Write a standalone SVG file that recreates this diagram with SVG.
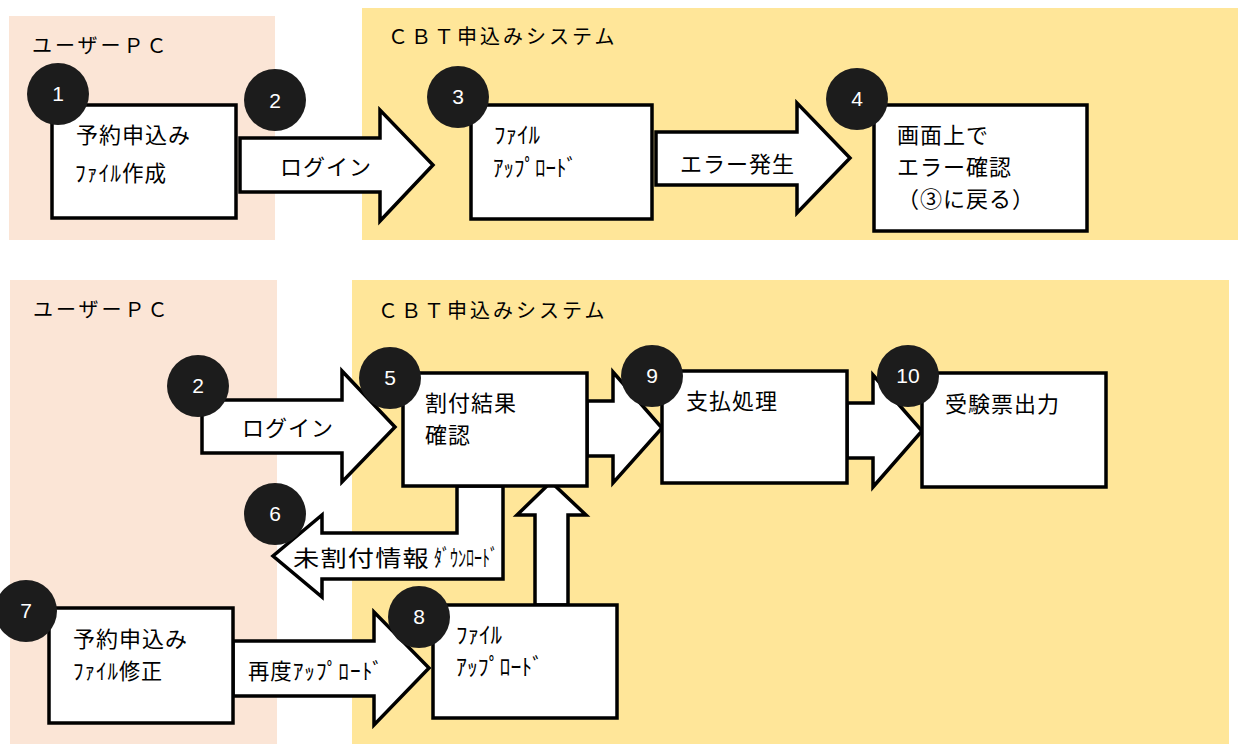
<svg xmlns="http://www.w3.org/2000/svg" width="1243" height="744" viewBox="0 0 1243 744">
<style>
.pink{fill:#FBE5D6}
.yel{fill:#FFE699}
.box{fill:#fff;stroke:#000;stroke-width:3.5}
.arr{fill:#fff;stroke:#000;stroke-width:3.5;stroke-linejoin:miter}
.dot{fill:#1C1C1C}
.num{fill:#fff;font-family:"Liberation Sans",Arial,sans-serif;font-size:21px;text-anchor:middle}
.t{fill:#000;font-family:"Noto Sans CJK JP","Noto Sans CJK SC",sans-serif;font-size:22px;letter-spacing:1px}
.h{fill:#000;font-family:"Noto Sans CJK JP","Noto Sans CJK SC",sans-serif;font-size:23px;letter-spacing:0}
.ttl{fill:#000;font-family:"Noto Sans CJK JP","Noto Sans CJK SC",sans-serif;font-size:20px;letter-spacing:3px}
</style>
<rect width="1243" height="744" fill="#fff"/>
<rect class="pink" x="9" y="16" width="266" height="224"/>
<rect class="yel" x="362" y="8" width="876" height="232"/>
<rect class="pink" x="10" y="280" width="267" height="464"/>
<rect class="yel" x="352" y="280" width="877" height="464"/>
<text class="ttl" x="32" y="53">ユーザーＰＣ</text>
<text class="ttl" x="388" y="44">ＣＢＴ申込みシステム</text>
<text class="ttl" x="33" y="317">ユーザーＰＣ</text>
<text class="ttl" x="378" y="318">ＣＢＴ申込みシステム</text>

<g id="connectors">
<g id="c1-3"><polygon class="arr" points="240,138 380,138 380,110 433,165 380,221 380,192 240,192"/><text class="t" x="280" y="175">ログイン</text></g>
<g id="c3-4"><polygon class="arr" points="656,132 797,132 797,103 850,158 797,213 797,185 656,185"/><text class="t" x="680" y="172">エラー発生</text></g>
<g id="c-login"><polygon class="arr" points="202,400 342,400 342,371 395,427 342,482 342,453 202,453"/><text class="t" x="242" y="436">ログイン</text></g>
<g id="c5-9"><polygon class="arr" points="587,401 613,401 613,372 662,428 613,483 613,456 587,456"/></g>
<g id="c9-10"><polygon class="arr" points="847,403 873,403 873,375 922,431 873,487 873,458 847,458"/></g>
<g id="c8-5"><polygon class="arr" points="535,605 535,515 517,515 551,482 586,515 568,515 568,605"/></g>
<g id="c5-6"><polygon class="arr" points="457,486 457,533 322,533 322,515 273,556 322,597 322,579 503,579 503,486"/><text class="t" x="293" y="566" textLength="137" lengthAdjust="spacingAndGlyphs" letter-spacing="0">未割付情報</text><text class="h" x="434" y="566" textLength="64" lengthAdjust="spacingAndGlyphs">ﾀﾞｳﾝﾛｰﾄﾞ</text></g>
<g id="c7-8"><polygon class="arr" points="233,641 374,641 374,612 429,668 374,725 374,696 233,696"/><text class="t" x="248" y="679" letter-spacing="0" textLength="136" lengthAdjust="spacingAndGlyphs">再度ｱｯﾌﾟﾛｰﾄﾞ</text></g>
</g>

<g id="n1"><rect class="box" x="52" y="105" width="184" height="113"/><text class="t" x="76" y="143">予約申込み</text><text class="t" x="75" y="181" letter-spacing="0" textLength="92" lengthAdjust="spacingAndGlyphs">ﾌｧｲﾙ作成</text><circle class="dot" cx="58" cy="94" r="31"/><text class="num" x="58" y="101">1</text></g>
<g id="n2"><circle class="dot" cx="275" cy="100" r="31"/><text class="num" x="275" y="108">2</text></g>
<g id="n3"><rect class="box" x="471" y="105" width="181" height="114"/><text class="h" x="494" y="143" textLength="46" lengthAdjust="spacingAndGlyphs">ﾌｧｲﾙ</text><text class="h" x="493" y="176" textLength="84" lengthAdjust="spacingAndGlyphs">ｱｯﾌﾟﾛｰﾄﾞ</text><circle class="dot" cx="458" cy="97" r="31"/><text class="num" x="458" y="104">3</text></g>
<g id="n4"><rect class="box" x="874" y="105" width="213" height="126"/><text class="t" x="897" y="143">画面上で</text><text class="t" x="897" y="175">エラー確認</text><text class="t" x="897" y="207">（③に戻る）</text><circle class="dot" cx="857" cy="99" r="31"/><text class="num" x="857" y="106">4</text></g>
<g id="n2b"><circle class="dot" cx="198" cy="386" r="31"/><text class="num" x="198" y="393">2</text></g>
<g id="n5"><rect class="box" x="403" y="373" width="184" height="113"/><text class="t" x="425" y="411">割付結果</text><text class="t" x="425" y="443">確認</text><circle class="dot" cx="390" cy="378" r="31"/><text class="num" x="390" y="385">5</text></g>
<g id="n6"><circle class="dot" cx="275" cy="514" r="31"/><text class="num" x="275" y="521">6</text></g>
<g id="n9"><rect class="box" x="662" y="371" width="185" height="112"/><text class="t" x="686" y="409">支払処理</text><circle class="dot" cx="652" cy="376" r="31"/><text class="num" x="652" y="383">9</text></g>
<g id="n10"><rect class="box" x="922" y="373" width="184" height="114"/><text class="t" x="945" y="412">受験票出力</text><circle class="dot" cx="908" cy="376" r="31"/><text class="num" x="908" y="383">10</text></g>
<g id="n7"><rect class="box" x="49" y="608" width="184" height="115"/><text class="t" x="73" y="647">予約申込み</text><text class="t" x="73" y="679" letter-spacing="0" textLength="90" lengthAdjust="spacingAndGlyphs">ﾌｧｲﾙ修正</text><circle class="dot" cx="26" cy="611" r="31"/><text class="num" x="26" y="618">7</text></g>
<g id="n8"><rect class="box" x="433" y="605" width="184" height="113"/><text class="h" x="456" y="643" textLength="46" lengthAdjust="spacingAndGlyphs">ﾌｧｲﾙ</text><text class="h" x="456" y="675" textLength="87" lengthAdjust="spacingAndGlyphs">ｱｯﾌﾟﾛｰﾄﾞ</text><circle class="dot" cx="419" cy="617" r="31"/><text class="num" x="419" y="624">8</text></g>
</svg>
